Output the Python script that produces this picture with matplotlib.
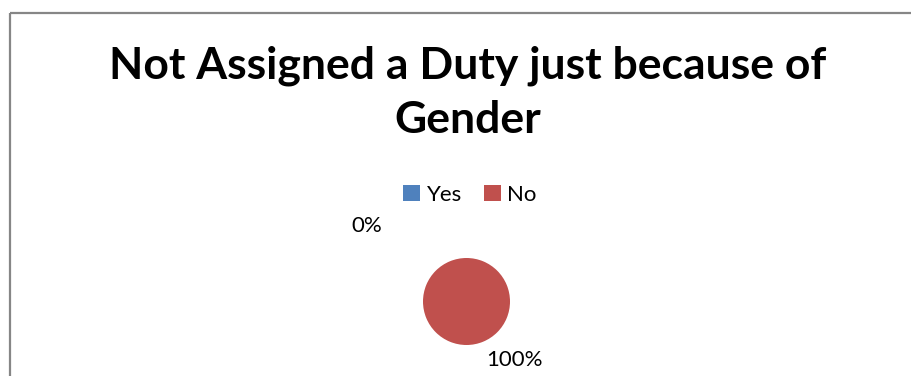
import matplotlib
matplotlib.use("Agg")
import matplotlib.pyplot as plt
from matplotlib.patches import Patch, Rectangle

plt.rcParams['font.family'] = ['Lato', 'DejaVu Sans']

# Survey answers
categories = ['Yes', 'No']
shares = [0, 100]
colors = ['#4f81bd', '#c0504d']
title_lines = ['Not Assigned a Duty just because of', 'Gender']

W, H = 912, 376
fig = plt.figure(figsize=(W / 100, H / 100), dpi=100)
ax = fig.add_axes([0, 0, 1, 1])
ax.set_xlim(0, W)
ax.set_ylim(H, 0)
ax.set_aspect('equal')
ax.axis('off')

# chart frame (bottom and right edges fall outside the image)
ax.add_patch(Rectangle((10, 12.5), 1000, 500, fill=False, edgecolor='#868686', linewidth=1.6))

# two-line title, baselines set separately
for i, line in enumerate(title_lines):
    ax.text(468, 78 + 55 * i, line, ha='center', va='baseline', fontsize=32,
            fontweight='bold', color='black')

cx, cy, r = 466.5, 301.5, 43.5
wedges, _ = ax.pie(shares, colors=colors, center=(cx, cy), radius=r, startangle=90,
                   counterclock=False, wedgeprops=dict(linewidth=0))
ax.set_xlim(0, W)
ax.set_ylim(H, 0)

# percentage labels
offsets = [(-100, -75), (48, 58)]
for v, (dx, dy) in zip(shares, offsets):
    ax.text(cx + dx, cy + dy, f'{v}%', ha='center', va='center', fontsize=16, color='black')

handles = [Patch(facecolor=c, edgecolor='none') for c in colors]
fig.legend(handles, categories, loc='center', bbox_to_anchor=(470 / W, 1 - 195 / H), ncol=2,
           frameon=False, fontsize=16, handlelength=0.75, handleheight=0.75,
           handletextpad=0.3, columnspacing=1.0)

fig.savefig('out.png', dpi=100)
